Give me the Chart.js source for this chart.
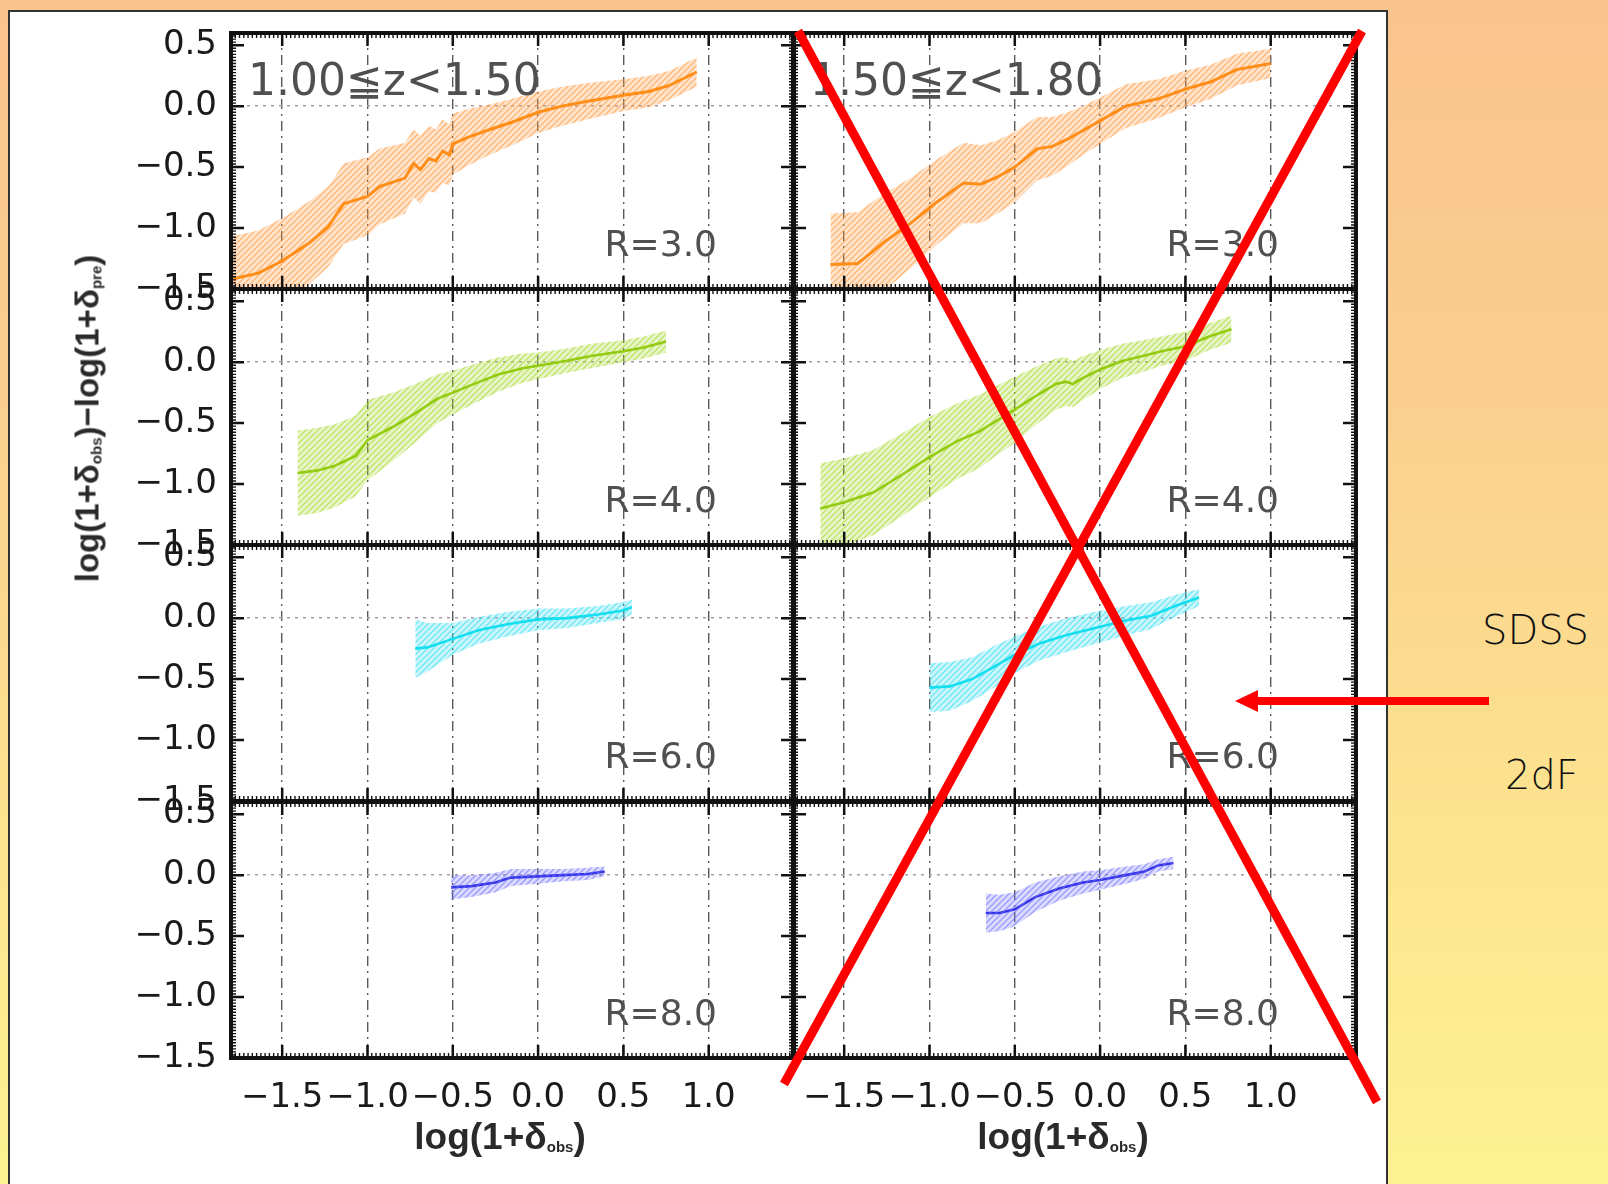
<!DOCTYPE html>
<html>
<head>
<meta charset="utf-8">
<script src="https://cdn.jsdelivr.net/npm/chart.js@4.4.0/dist/chart.umd.min.js"></script>
<style>
  body { margin: 0; width: 1608px; height: 1184px; overflow: hidden; position: relative;
    background: linear-gradient(180deg, #f9c38d 0%, #fbcf8e 35%, #fce18f 65%, #fdf292 100%); }
  #paper { position: absolute; left: 8px; top: 10px; width: 1376px; height: 1200px;
    background: #fff; border: 2px solid #333; }
  canvas { position: absolute; z-index: 2; }
  .note { position: absolute; z-index: 3; white-space: nowrap; line-height: 1; font-family: "DejaVu Sans"; color: #505050; }
  .zbin { font-size: 44px; }
  .rad { font-size: 36px; text-align: right; }
  .title { position: absolute; z-index: 3; white-space: nowrap; line-height: 1;
    font-family: "Liberation Sans"; font-weight: bold; font-size: 37px; color: #2a2a2a; }
  .title sub { font-size: 15px; vertical-align: -3px; }
  .survey { position: absolute; z-index: 3; font-family: "DejaVu Sans"; font-weight: 200;
    font-size: 40px; color: #111; line-height: 1; }
  svg { position: absolute; left: 0; top: 0; z-index: 5; }
</style>
</head>
<body>
<div id="paper"></div>

<div class="title" style="left:300px; top:1118px; width:400px; text-align:center;">log(1+&delta;<sub>obs</sub>)</div>
<div class="title" style="left:863px; top:1118px; width:400px; text-align:center;">log(1+&delta;<sub>obs</sub>)</div>
<div class="title" style="left:-113px; top:402px; width:400px; text-align:center; font-size:33px; transform:rotate(-90deg);">log(1+&delta;<sub>obs</sub>)&minus;log(1+&delta;<sub>pre</sub>)</div>

<div class="survey" style="left:1482px; top:610px;">SDSS</div>
<div class="survey" style="left:1505px; top:755px;">2dF</div>

<svg width="1608" height="1184">
  <line x1="798" y1="31" x2="1377" y2="1102" stroke="#ff0000" stroke-width="9"/>
  <line x1="1362" y1="31" x2="784" y2="1084" stroke="#ff0000" stroke-width="9"/>
  <line x1="1489" y1="701" x2="1254" y2="701" stroke="#ff0000" stroke-width="8"/>
  <polygon points="1235,701 1258,690 1258,712" fill="#ff0000"/>
</svg>

<script>
// axis ticks and panel labels
const xTicks = [-1.5, -1.0, -0.5, 0.0, 0.5, 1.0];
const yTicks = [-1.5, -1.0, -0.5, 0.0, 0.5];
const radii = ['R=3.0', 'R=4.0', 'R=6.0', 'R=8.0'];
const zBins = ['1.00\u2266z<1.50', '1.50\u2266z<1.80'];

// Lo = 1.00<=z<1.50 (left column), Hi = 1.50<=z<1.80 (right column)
// x = log(1+d_obs), y = residual, err = half width of the shaded band
const r3LoX = [-1.80, -1.64, -1.50, -1.34, -1.23, -1.14, -1.00, -0.93, -0.78, -0.73, -0.69, -0.64, -0.60, -0.56, -0.52, -0.50, -0.40, -0.30, -0.15, 0.00, 0.14, 0.29, 0.50, 0.65, 0.77, 0.93];
const r3LoY = [-1.42, -1.37, -1.27, -1.12, -0.99, -0.80, -0.74, -0.66, -0.59, -0.47, -0.52, -0.43, -0.45, -0.37, -0.40, -0.31, -0.25, -0.20, -0.13, -0.05, 0.00, 0.04, 0.09, 0.12, 0.17, 0.28];
const r3LoErr = [0.35, 0.35, 0.35, 0.34, 0.33, 0.33, 0.32, 0.31, 0.29, 0.28, 0.28, 0.27, 0.26, 0.26, 0.25, 0.25, 0.23, 0.21, 0.19, 0.17, 0.16, 0.15, 0.13, 0.13, 0.12, 0.12];

const r3HiX = [-1.58, -1.42, -1.27, -1.11, -0.96, -0.80, -0.70, -0.60, -0.50, -0.37, -0.28, -0.19, -0.10, 0.00, 0.15, 0.34, 0.50, 0.65, 0.80, 1.00];
const r3HiY = [-1.30, -1.29, -1.12, -0.96, -0.79, -0.63, -0.64, -0.58, -0.50, -0.35, -0.33, -0.27, -0.20, -0.12, 0.00, 0.06, 0.14, 0.20, 0.30, 0.35];
const r3HiErr = [0.42, 0.42, 0.40, 0.37, 0.35, 0.33, 0.32, 0.30, 0.29, 0.26, 0.24, 0.22, 0.20, 0.19, 0.18, 0.16, 0.15, 0.14, 0.13, 0.12];

const r4LoX = [-1.41, -1.30, -1.19, -1.07, -1.00, -0.85, -0.72, -0.59, -0.50, -0.36, -0.23, -0.09, 0.00, 0.16, 0.31, 0.50, 0.62, 0.75];
const r4LoY = [-0.91, -0.89, -0.85, -0.77, -0.64, -0.53, -0.42, -0.30, -0.25, -0.17, -0.10, -0.05, -0.03, 0.01, 0.05, 0.09, 0.12, 0.17];
const r4LoErr = [0.35, 0.35, 0.34, 0.33, 0.33, 0.28, 0.24, 0.20, 0.18, 0.16, 0.14, 0.12, 0.11, 0.10, 0.10, 0.09, 0.09, 0.09];

const r4HiX = [-1.64, -1.50, -1.33, -1.18, -1.00, -0.84, -0.71, -0.57, -0.50, -0.38, -0.26, -0.20, -0.16, -0.10, 0.00, 0.13, 0.25, 0.36, 0.50, 0.64, 0.77];
const r4HiY = [-1.20, -1.15, -1.07, -0.94, -0.78, -0.65, -0.57, -0.45, -0.39, -0.28, -0.18, -0.16, -0.18, -0.13, -0.06, 0.01, 0.05, 0.09, 0.13, 0.21, 0.27];
const r4HiErr = [0.37, 0.36, 0.35, 0.34, 0.33, 0.31, 0.30, 0.28, 0.27, 0.24, 0.21, 0.20, 0.19, 0.18, 0.16, 0.14, 0.13, 0.12, 0.12, 0.11, 0.11];

const r6LoX = [-0.72, -0.65, -0.50, -0.35, -0.18, 0.00, 0.17, 0.35, 0.49, 0.55];
const r6LoY = [-0.25, -0.24, -0.17, -0.10, -0.05, -0.01, 0.00, 0.03, 0.06, 0.09];
const r6LoErr = [0.24, 0.20, 0.13, 0.11, 0.10, 0.09, 0.08, 0.07, 0.07, 0.06];

const r6HiX = [-1.00, -0.88, -0.75, -0.61, -0.50, -0.36, -0.20, 0.00, 0.15, 0.30, 0.44, 0.58];
const r6HiY = [-0.57, -0.56, -0.50, -0.39, -0.30, -0.21, -0.14, -0.07, -0.02, 0.02, 0.10, 0.17];
const r6HiErr = [0.20, 0.20, 0.18, 0.17, 0.15, 0.14, 0.14, 0.13, 0.12, 0.11, 0.09, 0.07];

const r8LoX = [-0.51, -0.39, -0.25, -0.16, 0.00, 0.15, 0.29, 0.39];
const r8LoY = [-0.10, -0.09, -0.06, -0.02, -0.01, 0.00, 0.01, 0.03];
const r8LoErr = [0.10, 0.09, 0.08, 0.07, 0.06, 0.05, 0.05, 0.04];

const r8HiX = [-0.67, -0.59, -0.50, -0.38, -0.24, -0.10, 0.00, 0.15, 0.26, 0.34, 0.43];
const r8HiY = [-0.31, -0.31, -0.28, -0.18, -0.11, -0.06, -0.04, 0.00, 0.03, 0.08, 0.10];
const r8HiErr = [0.16, 0.15, 0.14, 0.12, 0.10, 0.09, 0.08, 0.07, 0.06, 0.05, 0.05];

// panel geometry on the page
const PL = [231, 793];
const PT = [33, 289, 545, 802];
const PW = 563, PH = 256;

const lineColors = ['#ff8800', '#88c400', '#00e0ee', '#2222e0'];
const bandRgb = ['255,150,60', '165,215,40', '50,220,240', '110,110,255'];

const panels = [
    { row: 0, col: 0, x: r3LoX, y: r3LoY, err: r3LoErr },
    { row: 0, col: 1, x: r3HiX, y: r3HiY, err: r3HiErr },
    { row: 1, col: 0, x: r4LoX, y: r4LoY, err: r4LoErr },
    { row: 1, col: 1, x: r4HiX, y: r4HiY, err: r4HiErr },
    { row: 2, col: 0, x: r6LoX, y: r6LoY, err: r6LoErr },
    { row: 2, col: 1, x: r6HiX, y: r6HiY, err: r6HiErr },
    { row: 3, col: 0, x: r8LoX, y: r8LoY, err: r8LoErr },
    { row: 3, col: 1, x: r8HiX, y: r8HiY, err: r8HiErr }
];

function fmt(v) {
    return (v < 0 ? '\u2212' : '') + Math.abs(v).toFixed(1);
}

function hatch(rgb) {
    const c = document.createElement('canvas');
    c.width = c.height = 6;
    const g = c.getContext('2d');
    g.fillStyle = `rgba(${rgb},0.25)`;
    g.fillRect(0, 0, 6, 6);
    g.strokeStyle = `rgba(${rgb},0.6)`;
    g.lineWidth = 1.3;
    g.beginPath();
    g.moveTo(0, 6); g.lineTo(6, 0);
    g.moveTo(-1, 1); g.lineTo(1, -1);
    g.moveTo(5, 7); g.lineTo(7, 5);
    g.stroke();
    return g.createPattern(c, 'repeat');
}

// thick IDL style frame with inward major / minor ticks
const framePlugin = {
    id: 'frame',
    afterDatasetsDraw(chart) {
        const { ctx, chartArea: a, scales: { x, y } } = chart;
        ctx.save();
        ctx.strokeStyle = '#111';
        ctx.lineWidth = 1.4;
        ctx.beginPath();
        for (let i = -72; i <= 60; i++) {
            const px = x.getPixelForValue(i * 0.025);
            if (px < a.left || px > a.right) continue;
            ctx.moveTo(px, a.top); ctx.lineTo(px, a.top + 5);
            ctx.moveTo(px, a.bottom); ctx.lineTo(px, a.bottom - 5);
        }
        for (let i = -60; i <= 24; i++) {
            const py = y.getPixelForValue(i * 0.025);
            if (py < a.top || py > a.bottom) continue;
            ctx.moveTo(a.left, py); ctx.lineTo(a.left + 5, py);
            ctx.moveTo(a.right, py); ctx.lineTo(a.right - 5, py);
        }
        ctx.stroke();
        ctx.lineWidth = 2.5;
        ctx.beginPath();
        xTicks.forEach(v => {
            const px = x.getPixelForValue(v);
            ctx.moveTo(px, a.top); ctx.lineTo(px, a.top + 13);
            ctx.moveTo(px, a.bottom); ctx.lineTo(px, a.bottom - 13);
        });
        yTicks.forEach(v => {
            const py = y.getPixelForValue(v);
            ctx.moveTo(a.left, py); ctx.lineTo(a.left + 13, py);
            ctx.moveTo(a.right, py); ctx.lineTo(a.right - 13, py);
        });
        ctx.stroke();
        ctx.lineWidth = 4;
        ctx.strokeRect(a.left, a.top, a.right - a.left, a.bottom - a.top);
        ctx.restore();
    }
};

function noPad(s) {
    s.paddingTop = 0; s.paddingBottom = 0; s.paddingLeft = 0; s.paddingRight = 0;
}

panels.forEach(p => {
    const { row, col } = p;
    const padL = col === 0 ? 0 : 4;
    const yW = col === 0 ? 150 : 0;
    const xH = row === 3 ? 56 : 0;
    const padT = 18;
    const padB = row === 3 ? 4 : 20;

    const canvas = document.createElement('canvas');
    canvas.width = padL + yW + PW + 4;
    canvas.height = padT + PH + xH + padB;
    canvas.style.left = (PL[col] - yW - padL) + 'px';
    canvas.style.top = (PT[row] - padT) + 'px';
    document.body.appendChild(canvas);

    const upper = p.x.map((xv, i) => ({ x: xv, y: p.y[i] + p.err[i] }));
    const lower = p.x.map((xv, i) => ({ x: xv, y: p.y[i] - p.err[i] }));
    const mid = p.x.map((xv, i) => ({ x: xv, y: p.y[i] }));

    new Chart(canvas.getContext('2d'), {
        type: 'line',
        data: {
            datasets: [
                { data: upper, borderWidth: 0, pointRadius: 0, fill: false },
                { data: lower, borderWidth: 0, pointRadius: 0, fill: '-1', backgroundColor: hatch(bandRgb[row]) },
                { data: mid, borderColor: lineColors[row], borderWidth: row === 0 ? 3 : 2.6, pointRadius: 0, fill: false }
            ]
        },
        options: {
            responsive: false,
            animation: false,
            layout: { padding: { left: padL, right: 4, top: padT, bottom: padB } },
            plugins: { legend: { display: false }, tooltip: { enabled: false } },
            scales: {
                x: {
                    type: 'linear', min: -1.8, max: 1.5,
                    afterBuildTicks: s => { s.ticks = xTicks.map(v => ({ value: v })); },
                    afterFit: s => { s.height = xH; noPad(s); },
                    grid: { color: '#5a5a5a', lineWidth: 1.4, drawTicks: false },
                    border: { display: false, dash: [10, 5, 2, 5] },
                    ticks: {
                        display: row === 3, padding: 20, autoSkip: false, maxRotation: 0,
                        color: '#1a1a1a', font: { family: 'DejaVu Sans', size: 34 },
                        callback: v => fmt(v)
                    }
                },
                y: {
                    type: 'linear', min: -1.5, max: 0.6,
                    afterBuildTicks: s => { s.ticks = yTicks.map(v => ({ value: v })); },
                    afterFit: s => { s.width = yW; noPad(s); },
                    grid: {
                        color: c => (c.tick && c.tick.value === 0) ? '#a89aa4' : 'rgba(0,0,0,0)',
                        lineWidth: 1.5, drawTicks: false
                    },
                    border: { display: false, dash: [3, 5] },
                    ticks: {
                        display: col === 0, padding: 14,
                        color: '#1a1a1a', font: { family: 'DejaVu Sans', size: 34 },
                        callback: v => fmt(v)
                    }
                }
            }
        },
        plugins: [framePlugin]
    });
});

// panel annotations
function addNote(text, cls, style) {
    const d = document.createElement('div');
    d.className = 'note ' + cls;
    d.textContent = text;
    Object.assign(d.style, style);
    document.body.appendChild(d);
}
zBins.forEach((t, c) => addNote(t, 'zbin', { left: (PL[c] + 17) + 'px', top: (PT[0] + 25) + 'px' }));
radii.forEach((t, r) => {
    [0, 1].forEach(c => addNote(t, 'rad', { left: (PL[c] + PW - 77 - 220) + 'px', width: '220px', top: (PT[r] + 193) + 'px' }));
});
</script>
</body>
</html>
